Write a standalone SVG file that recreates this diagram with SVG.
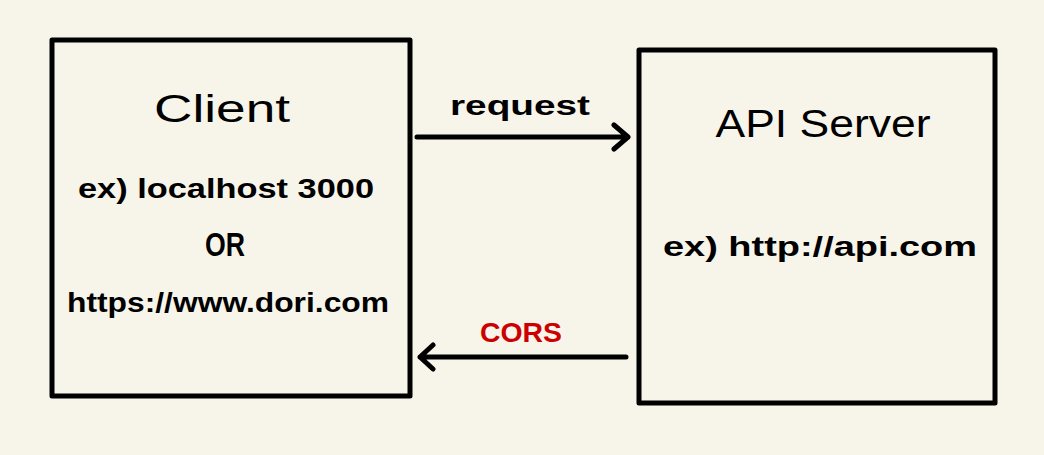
<svg xmlns="http://www.w3.org/2000/svg" width="1044" height="455" viewBox="0 0 1044 455">
  <style>
    .box { fill: none; stroke: #000; stroke-width: 5; stroke-linejoin: round; }
    .conn { fill: none; stroke: #000; stroke-width: 5; stroke-linecap: round; stroke-linejoin: round; }
    .t { font-family: "Liberation Sans", Arial, sans-serif; fill: #000; text-anchor: middle; }
    .title { font-size: 38px; }
    .sub { font-size: 28px; font-weight: bold; }
  </style>
  <rect width="1044" height="455" fill="#f7f5ea"/>
  <g id="client">
    <rect class="box" x="52" y="40" width="358" height="356"/>
    <text class="t title" x="222" y="122" textLength="136" lengthAdjust="spacingAndGlyphs">Client</text>
    <text class="t sub" x="226" y="198" textLength="296" lengthAdjust="spacingAndGlyphs">ex) localhost 3000</text>
    <text class="t sub" x="225" y="256" style="font-size:33px" textLength="40" lengthAdjust="spacingAndGlyphs">OR</text>
    <text class="t sub" x="228" y="312" textLength="322" lengthAdjust="spacingAndGlyphs">https://www.dori.com</text>
  </g>
  <g id="server">
    <rect class="box" x="639" y="50" width="356" height="353"/>
    <text class="t title" x="823" y="137" textLength="215" lengthAdjust="spacingAndGlyphs">API Server</text>
    <text class="t sub" x="820" y="256" textLength="314" lengthAdjust="spacingAndGlyphs">ex) http://api.com</text>
  </g>
  <g id="connectors">
    <path class="conn" d="M417 137 L628 137 M614 125 L628 137 L614 149"/>
    <text class="t sub" x="520" y="115" textLength="140" lengthAdjust="spacingAndGlyphs">request</text>
    <path class="conn" d="M626 357 L420 357 M433 345 L420 357 L433 369"/>
    <text class="t sub" x="521" y="342" style="fill:#cc0000" textLength="82" lengthAdjust="spacingAndGlyphs">CORS</text>
  </g>
</svg>
